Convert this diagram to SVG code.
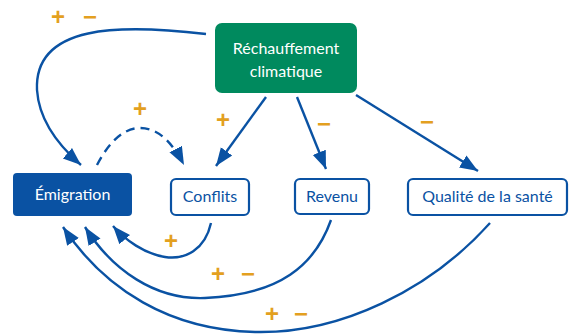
<svg xmlns="http://www.w3.org/2000/svg" width="569" height="334" viewBox="0 0 569 334">
<style>
.lbl{font-family:Lato,"Liberation Sans",sans-serif;font-size:16px;text-anchor:middle}
.sign{font-family:"Liberation Sans",sans-serif;font-size:24px;font-weight:bold;fill:#e3a01f;text-anchor:middle}
.c{fill:none;stroke:#0a52a3;stroke-width:2.4;marker-end:url(#ah)}
.box{fill:#fff;stroke:#0a52a3;stroke-width:2.2}
</style>
<defs>
<marker id="ah" markerUnits="userSpaceOnUse" markerWidth="20" markerHeight="16" viewBox="0 0 20 16" refX="18" refY="8" orient="auto">
<path d="M0,1 L18,8 L0,15 Z" fill="#0a52a3"/>
</marker>
</defs>
<g id="connectors">
<path class="c" d="M206,34 C120,24 34,24 37,90 C39,120 58,145 81,165"/>
<path class="c" d="M97,165 C110,140 125,128 140,128 C158,128 172,142 184,165" stroke-dasharray="9,6"/>
<path class="c" d="M266,97 L216,166"/>
<path class="c" d="M297,97 L326,169"/>
<path class="c" d="M356,95 L478,171"/>
<path class="c" d="M211,223 C205,250 185,260 165,257 C145,254 125,240 113,226"/>
<path class="c" d="M331,220 C315,265 280,295 205,298 C155,300 112,270 85,227"/>
<path class="c" d="M490,223 C430,290 340,334 255,332 C170,330 105,290 63,227"/>
</g>
<g id="rechauffement">
<rect x="215" y="23" width="142" height="70" rx="7" fill="#008a5e"/>
<text class="lbl" x="286" y="54" fill="#fff">Réchauffement</text>
<text class="lbl" x="286" y="77" fill="#fff">climatique</text>
</g>
<g id="emigration">
<rect x="13" y="173" width="119" height="43" rx="4" fill="#0a52a3"/>
<text class="lbl" x="72.5" y="200" fill="#fff">Émigration</text>
</g>
<g id="conflits">
<rect class="box" x="171" y="179" width="78" height="36" rx="5"/>
<text class="lbl" x="210" y="202" fill="#0a52a3">Conflits</text>
</g>
<g id="revenu">
<rect class="box" x="295" y="179" width="74" height="35" rx="5"/>
<text class="lbl" x="332" y="202" fill="#0a52a3">Revenu</text>
</g>
<g id="sante">
<rect class="box" x="408" y="179" width="159" height="36" rx="5"/>
<text class="lbl" x="487.5" y="202" fill="#0a52a3">Qualité de la santé</text>
</g>
<g id="signs">
<text class="sign" x="58" y="25">+</text><text class="sign" x="90" y="25">−</text>
<text class="sign" x="140" y="117">+</text>
<text class="sign" x="223" y="128">+</text>
<text class="sign" x="324" y="132">−</text>
<text class="sign" x="427" y="130">−</text>
<text class="sign" x="171" y="249">+</text>
<text class="sign" x="218" y="282">+</text><text class="sign" x="248" y="282">−</text>
<text class="sign" x="272" y="322">+</text><text class="sign" x="301" y="322">−</text>
</g>
</svg>
